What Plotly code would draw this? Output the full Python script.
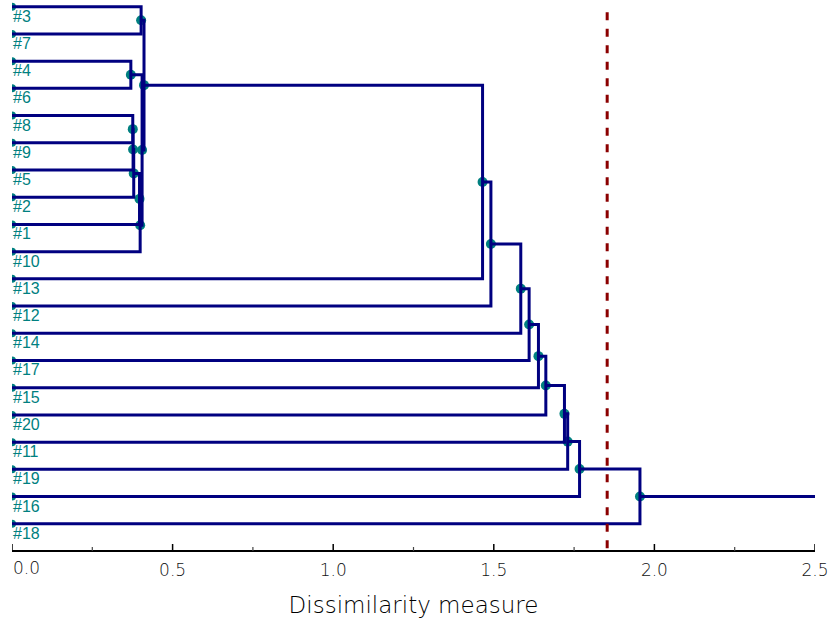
import plotly.graph_objects as go

# ---- data -------------------------------------------------------------
leaf_labels = ["#3", "#7", "#4", "#6", "#8", "#9", "#5", "#2", "#1", "#10",
               "#13", "#12", "#14", "#17", "#15", "#20", "#11", "#19", "#16", "#18"]
node_names = ["A", "B", "C", "D", "E", "F", "G", "H", "I", "J",
              "K", "L", "M", "N", "O", "P", "Q", "R", "S"]
child_a = ["#3", "#4", "#8", "C", "D", "E", "F", "B", "A", "I",
           "J", "K", "L", "M", "N", "O", "P", "Q", "R"]
child_b = ["#7", "#6", "#9", "#5", "#2", "#1", "#10", "G", "H", "#13",
           "#12", "#14", "#17", "#15", "#20", "#11", "#19", "#16", "#18"]
merge_height = [0.402, 0.370, 0.376, 0.377, 0.379, 0.397, 0.399, 0.405, 0.411, 1.465,
                1.491, 1.584, 1.610, 1.639, 1.662, 1.720, 1.730, 1.767, 1.955]
cut_level = 1.853
x_max = 2.5
x_tick_values = [0.0, 0.5, 1.0, 1.5, 2.0, 2.5]
x_tick_labels = ["0.0", "0.5", "1.0", "1.5", "2.0", "2.5"]
x_minor_values = [0.25, 0.75, 1.25, 1.75, 2.25]

# ---- build dendrogram geometry ----------------------------------------
pos = {lab: (0.0, float(i)) for i, lab in enumerate(leaf_labels)}
lx, ly = [], []
node_x, node_y = [], []
for name, a, b, h in zip(node_names, child_a, child_b, merge_height):
    xa, ya = pos[a]
    xb, yb = pos[b]
    lx += [xa, h, h, xb, None]
    ly += [ya, ya, yb, yb, None]
    pos[name] = (h, (ya + yb) / 2)
    node_x.append(h)
    node_y.append((ya + yb) / 2)
root_x, root_y = pos[node_names[-1]]
lx += [root_x, x_max]
ly += [root_y, root_y]

NAVY = "#000080"
TEAL = "#008080"
TICKFONT = dict(family="DejaVu Sans", size=17, color="#111111", weight=200)

fig = go.Figure()
# leaf dots (half clipped at the left edge)
fig.add_trace(go.Scatter(x=[0.0] * len(leaf_labels), y=list(range(len(leaf_labels))),
                         mode="markers", marker=dict(color=TEAL, size=8),
                         hoverinfo="skip"))
# node dots
fig.add_trace(go.Scatter(x=node_x, y=node_y, mode="markers",
                         marker=dict(color=TEAL, size=10), hoverinfo="skip"))
# tree lines
fig.add_trace(go.Scatter(x=lx, y=ly, mode="lines",
                         line=dict(color=NAVY, width=3), hoverinfo="skip"))
# cut line
fig.add_trace(go.Scatter(x=[cut_level, cut_level], y=[0.2, 20.0], mode="lines",
                         line=dict(color="#8b0000", width=3, dash="8px,8.5px"),
                         hoverinfo="skip"))

for i, lab in enumerate(leaf_labels):
    fig.add_annotation(x=0.0, y=i, text=lab, showarrow=False,
                       xanchor="left", yanchor="top", xshift=-1, yshift=1,
                       font=dict(family="Liberation Sans", size=16, color=TEAL))

# first tick label sits left-aligned at the axis origin
fig.add_annotation(x=x_tick_values[0], y=0, xref="x", yref="paper",
                   text=x_tick_labels[0], showarrow=False,
                   xanchor="left", yanchor="top", xshift=-1, yshift=-5,
                   font=TICKFONT)
tick_text = [""] + x_tick_labels[1:]

# axis base line and inward ticks
fig.add_shape(type="line", xref="paper", yref="paper", x0=0, x1=1, y0=0, y1=0,
              line=dict(color="black", width=2), layer="above")
for v in x_tick_values:
    fig.add_shape(type="line", xref="x", yref="paper", ysizemode="pixel",
                  yanchor=0, x0=v, x1=v, y0=0, y1=7,
                  line=dict(color="black", width=1.5), layer="above")
for v in x_minor_values:
    fig.add_shape(type="line", xref="x", yref="paper", ysizemode="pixel",
                  yanchor=0, x0=v, x1=v, y0=0, y1=4,
                  line=dict(color="#444444", width=1.2), layer="above")

fig.update_layout(
    width=835, height=619,
    margin=dict(l=12, r=20, t=0, b=68, autoexpand=False),
    paper_bgcolor="white", plot_bgcolor="white",
    showlegend=False,
    xaxis=dict(range=[0, x_max], showgrid=False, zeroline=False,
               automargin=False, showline=False, ticks="",
               tickmode="array", tickvals=x_tick_values, ticktext=tick_text,
               tickfont=TICKFONT, ticklabelstandoff=7,
               title=dict(text="Dissimilarity measure", standoff=17,
                          font=dict(family="DejaVu Sans", size=23,
                                    color="black", weight=200))),
    yaxis=dict(range=[20.0, -0.246], showgrid=False, zeroline=False,
               showline=False, showticklabels=False, ticks="",
               automargin=False),
)

fig.write_html("out.html")
